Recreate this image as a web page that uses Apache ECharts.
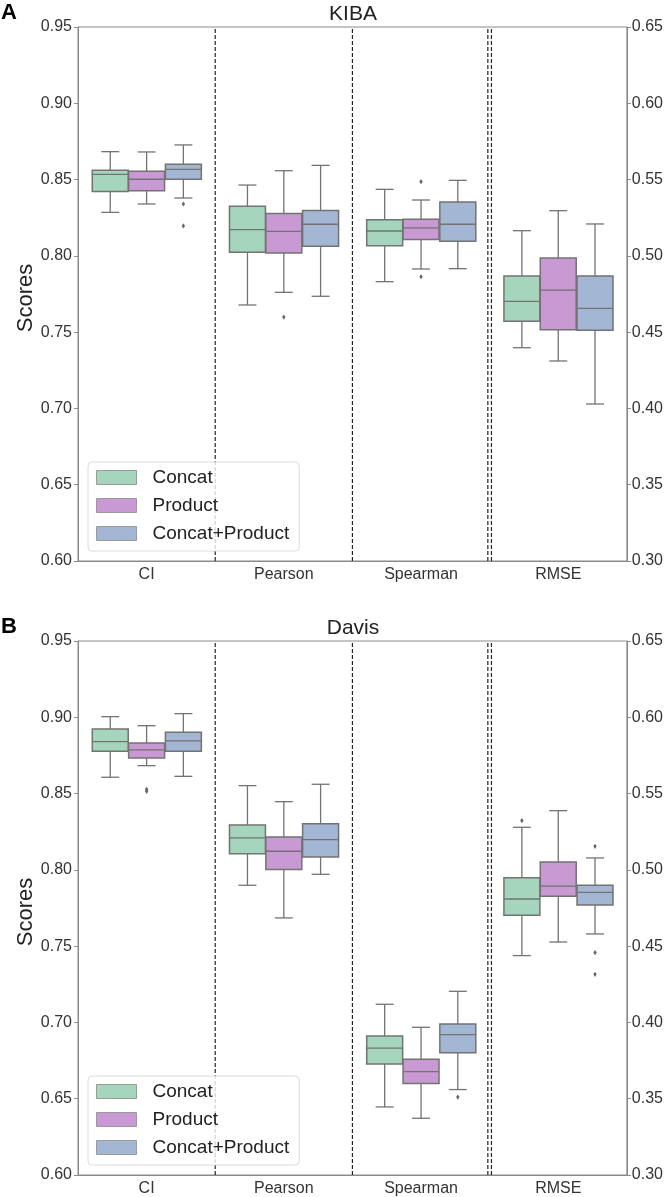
<!DOCTYPE html>
<html>
<head>
<meta charset="utf-8">
<script src="https://cdn.jsdelivr.net/npm/echarts@6/dist/echarts.min.js"></script>
<style>html,body{margin:0;padding:0;background:#fff;}#chart{width:666px;height:1197px;}</style>
</head>
<body>
<div id="chart"></div>
<script>
// ---------- data ----------
const categories = ['CI', 'Pearson', 'Spearman', 'RMSE'];
const methods = ['Concat', 'Product', 'Concat+Product'];
const panelTitles = ['KIBA', 'Davis'];
const leftTicks = [0.60, 0.95];   // left axis range (CI, Pearson, Spearman)
const rightTicks = [0.30, 0.65];  // right axis range (RMSE)

// box stats per category: [min, Q1, median, Q3, max]
const kibaConcat = [[0.8285,0.8421,0.8534,0.8561,0.8683],[0.7678,0.8023,0.8172,0.8325,0.8464],[0.7831,0.8067,0.8163,0.8237,0.8436],[0.4398,0.4571,0.4702,0.4868,0.5165]];
const kibaProduct = [[0.8340,0.8427,0.8502,0.8554,0.8681],[0.7761,0.8019,0.8161,0.8277,0.8558],[0.7914,0.8108,0.8183,0.8240,0.8366],[0.4311,0.4516,0.4776,0.4986,0.5296]];
const kibaConcatProduct = [[0.8379,0.8502,0.8567,0.8600,0.8727],[0.7735,0.8063,0.8207,0.8298,0.8593],[0.7916,0.8095,0.8207,0.8353,0.8495],[0.4029,0.4512,0.4656,0.4868,0.5209]];
const davisConcat = [[0.8607,0.8777,0.8841,0.8923,0.9004],[0.7899,0.8106,0.8209,0.8294,0.8552],[0.6446,0.6728,0.6832,0.6911,0.7119],[0.4438,0.4702,0.4809,0.4949,0.5279]];
const davisProduct = [[0.8683,0.8733,0.8786,0.8832,0.8945],[0.7685,0.8002,0.8122,0.8215,0.8447],[0.6372,0.6599,0.6678,0.6758,0.6968],[0.4527,0.4827,0.4894,0.5051,0.5388]];
const davisConcatProduct = [[0.8613,0.8777,0.8845,0.8902,0.9024],[0.7971,0.8084,0.8198,0.8303,0.8561],[0.6560,0.6802,0.6920,0.6990,0.7204],[0.4580,0.4770,0.4853,0.4899,0.5078]];

// outliers: [categoryIndex, value]
const kibaConcatOutliers = [];
const kibaProductOutliers = [[1,0.7599],[2,0.8486],[2,0.7863]];
const kibaConcatProductOutliers = [[0,0.8340],[0,0.8196]];
const davisConcatOutliers = [[3,0.5323]];
const davisProductOutliers = [[0,0.8528],[0,0.8515]];
const davisConcatProductOutliers = [[2,0.6511],[3,0.5154],[3,0.4458],[3,0.4315]];

// ---------- style ----------
const FONT = "'Liberation Sans', Arial, sans-serif";
const colors = ['#a5d5bd', '#c899d2', '#a3b6d3'];
const EDGE = '#737373';
const AXIS = '#8a8a8a';
const BOX_W = 0.262;               // box width as fraction of category band
const OFFSETS = [-0.265, 0, 0.268]; // dodge offsets as fraction of band
const RMSE_IDX = 3;

const panels = [
  { boxes: [kibaConcat, kibaProduct, kibaConcatProduct], out: [kibaConcatOutliers, kibaProductOutliers, kibaConcatProductOutliers] },
  { boxes: [davisConcat, davisProduct, davisConcatProduct], out: [davisConcatOutliers, davisProductOutliers, davisConcatProductOutliers] }
];
const gridTops = [27, 641];
const GRID_H = 534;

function boxRenderer(offset, color) {
  return function (params, api) {
    const i = api.value(0);
    const band = api.size([1, 0])[0];
    const cx = api.coord([i, api.value(3)])[0] + offset * band;
    const hw = BOX_W * band / 2;
    const y = k => api.coord([i, api.value(k)])[1];
    const yMin = y(1), yQ1 = y(2), yMed = y(3), yQ3 = y(4), yMax = y(5);
    const ls = { stroke: EDGE, lineWidth: 1.3, fill: null };
    return { type: 'group', children: [
      { type: 'line', shape: { x1: cx, y1: yQ1, x2: cx, y2: yMin }, style: ls },
      { type: 'line', shape: { x1: cx, y1: yQ3, x2: cx, y2: yMax }, style: ls },
      { type: 'line', shape: { x1: cx - hw / 2, y1: yMin, x2: cx + hw / 2, y2: yMin }, style: ls },
      { type: 'line', shape: { x1: cx - hw / 2, y1: yMax, x2: cx + hw / 2, y2: yMax }, style: ls },
      { type: 'rect', shape: { x: cx - hw, y: yQ3, width: 2 * hw, height: yQ1 - yQ3 }, style: { fill: color, stroke: EDGE, lineWidth: 1.5 } },
      { type: 'line', shape: { x1: cx - hw, y1: yMed, x2: cx + hw, y2: yMed }, style: ls }
    ] };
  };
}
function outlierRenderer(offset) {
  return function (params, api) {
    const i = api.value(0);
    const band = api.size([1, 0])[0];
    const p = api.coord([i, api.value(1)]);
    const cx = p[0] + offset * band, cy = p[1];
    return { type: 'polygon', shape: { points: [[cx, cy - 2.6], [cx + 1.7, cy], [cx, cy + 2.6], [cx - 1.7, cy]] }, style: { fill: '#666' } };
  };
}
function dividerRenderer(params, api) {
  const i = api.value(0);
  const band = api.size([1, 0])[0];
  const x = api.coord([i, leftTicks[0]])[0] + band / 2;
  const y0 = api.coord([i, leftTicks[0]])[1];
  const y1 = api.coord([i, leftTicks[1]])[1];
  const xs = i === 2 ? [x - 1.8, x + 1.8] : [x];
  return { type: 'group', children: xs.map(xx => ({
    type: 'line', shape: { x1: xx, y1: y0, x2: xx, y2: y1 },
    style: { stroke: '#222', lineWidth: 1.2, lineDash: [4, 2] }
  })) };
}

const grid = [], xAxis = [], yAxis = [], series = [], legend = [], graphic = [];
panels.forEach((panel, g) => {
  grid.push({ left: 78, right: 38, top: gridTops[g], height: GRID_H, show: true, borderColor: AXIS, borderWidth: 1, backgroundColor: 'transparent' });
  xAxis.push({ type: 'category', gridIndex: g, data: categories,
    axisTick: { show: false }, axisLine: { lineStyle: { color: AXIS, width: 1 } },
    axisLabel: { fontSize: 16, color: '#333', margin: 6, fontFamily: FONT } });
  const yCommon = { type: 'value', gridIndex: g, interval: 0.05, splitLine: { show: false },
    axisLine: { show: true, lineStyle: { color: AXIS, width: 1 } },
    axisTick: { show: true, length: 4, lineStyle: { color: AXIS } },
    axisLabel: { fontSize: 16, color: '#333', fontFamily: FONT, formatter: v => v.toFixed(2) } };
  yAxis.push(Object.assign({}, yCommon, { position: 'left', min: leftTicks[0], max: leftTicks[1], axisLabel: Object.assign({}, yCommon.axisLabel, { margin: 6 }) }));
  yAxis.push(Object.assign({}, yCommon, { position: 'right', min: rightTicks[0], max: rightTicks[1], axisLabel: Object.assign({}, yCommon.axisLabel, { margin: 5 }) }));

  series.push({ type: 'custom', xAxisIndex: g, yAxisIndex: 2 * g, silent: true,
    data: [[0, 0.6], [1, 0.6], [2, 0.6]], encode: { x: 0, y: 1 }, renderItem: dividerRenderer, z: 1 });

  methods.forEach((m, k) => {
    const stats = panel.boxes[k];
    const leftData = [], rightData = [];
    stats.forEach((s, ci) => (ci === RMSE_IDX ? rightData : leftData).push([ci].concat(s)));
    [[leftData, 2 * g], [rightData, 2 * g + 1]].forEach(([d, yi]) => {
      series.push({ name: m, type: 'custom', xAxisIndex: g, yAxisIndex: yi, silent: true,
        itemStyle: { color: colors[k] }, data: d, encode: { x: 0, y: [1, 2, 3, 4, 5] },
        renderItem: boxRenderer(OFFSETS[k], colors[k]), z: 3 });
    });
    const oLeft = panel.out[k].filter(o => o[0] !== RMSE_IDX);
    const oRight = panel.out[k].filter(o => o[0] === RMSE_IDX);
    [[oLeft, 2 * g], [oRight, 2 * g + 1]].forEach(([d, yi]) => {
      if (!d.length) return;
      series.push({ name: m, type: 'custom', xAxisIndex: g, yAxisIndex: yi, silent: true,
        itemStyle: { color: colors[k] }, data: d, encode: { x: 0, y: 1 },
        renderItem: outlierRenderer(OFFSETS[k]), z: 3 });
    });
  });

  legend.push({ left: 88, top: gridTops[g] + 435, orient: 'vertical', selectedMode: false,
    itemWidth: 40, itemHeight: 14, itemGap: 9, padding: [6, 10, 8, 8],
    backgroundColor: 'rgba(255,255,255,0.8)', borderColor: '#dcdcdc', borderWidth: 1, borderRadius: 4,
    textStyle: { fontSize: 19, color: '#222', fontFamily: FONT, padding: [0, 0, 0, 11] },
    data: methods.map((m, k) => ({ name: m, icon: 'rect', itemStyle: { color: colors[k], borderColor: '#9a9a9a', borderWidth: 1 } })) });

  graphic.push({ type: 'text', left: 1, top: gridTops[g] - 25, style: { text: g === 0 ? 'A' : 'B', font: 'bold 22px ' + FONT, fill: '#000' } });
  graphic.push({ type: 'text', x: 353, y: gridTops[g] - 13, style: { text: panelTitles[g], font: '21px ' + FONT, fill: '#222', align: 'center', verticalAlign: 'middle' } });
  graphic.push({ type: 'text', x: 26, y: gridTops[g] + 271, rotation: Math.PI / 2, style: { text: 'Scores', font: '22px ' + FONT, fill: '#222', align: 'center', verticalAlign: 'middle' } });
});

const chart = echarts.init(document.getElementById('chart'), null, { renderer: 'canvas' });
chart.setOption({ animation: false, backgroundColor: '#fff', grid, xAxis, yAxis, series, legend, graphic });
</script>
</body>
</html>
